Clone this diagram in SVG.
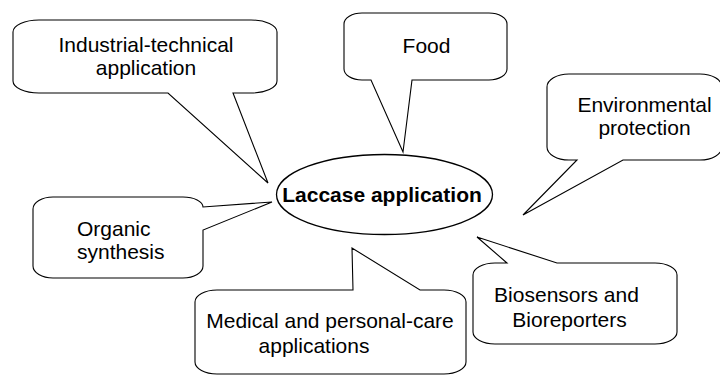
<svg xmlns="http://www.w3.org/2000/svg" width="720" height="375" viewBox="0 0 720 375">
<style>
.c{fill:#fff;stroke:#000;stroke-width:1.1;stroke-linejoin:miter}
.t{font-family:"Liberation Sans",Arial,sans-serif;font-size:21px;fill:#000}
.m{text-anchor:middle}
.b{font-weight:bold}
</style>
<rect width="720" height="375" fill="#fff"/>
<g id="connectors"></g>
<g id="industrial">
<path class="c" d="M39 20 H251 A26 12 0 0 1 277 32 V81 A26 12 0 0 1 251 93 H233 L268 183 L168 93 H39 A26 12 0 0 1 13 81 V32 A26 12 0 0 1 39 20 Z"/>
<text class="t m" x="146" y="52">Industrial-technical</text>
<text class="t m" x="146" y="75">application</text>
</g>
<g id="food">
<path class="c" d="M362 13 H489 A18 11 0 0 1 507 24 V69 A18 11 0 0 1 489 80 H412 L403 152 L371 80 H362 A18 11 0 0 1 344 69 V24 A18 11 0 0 1 362 13 Z"/>
<text class="t m" x="426.5" y="53">Food</text>
</g>
<g id="environmental">
<path class="c" d="M569 74 H700 A22 13 0 0 1 722 87 V147 A22 13 0 0 1 700 160 H623 L523 215 L577 160 H569 A22 13 0 0 1 547 147 V87 A22 13 0 0 1 569 74 Z"/>
<text class="t m" x="644.5" y="112">Environmental</text>
<text class="t m" x="644.5" y="135">protection</text>
</g>
<g id="organic">
<path class="c" d="M53 197 H183 A20 10 0 0 1 203 207 L272 202 L203 230 V266 A20 12 0 0 1 183 278 H53 A20 12 0 0 1 33 266 V209 A20 12 0 0 1 53 197 Z"/>
<text class="t" x="77" y="236">Organic</text>
<text class="t" x="77" y="259">synthesis</text>
</g>
<g id="medical">
<path class="c" d="M217 290 H353 L352 248 L420 290 H444 A22 12 0 0 1 466 302 V362 A22 12 0 0 1 444 374 H217 A22 12 0 0 1 195 362 V302 A22 12 0 0 1 217 290 Z"/>
<text class="t m" x="330" y="328">Medical and personal-care</text>
<text class="t m" x="314" y="353">applications</text>
</g>
<g id="biosensors">
<path class="c" d="M495 263 H507 L477 237 L557 263 H655 A22 12 0 0 1 677 275 V332 A22 12 0 0 1 655 344 H495 A22 12 0 0 1 473 332 V275 A22 12 0 0 1 495 263 Z"/>
<text class="t m" x="566.5" y="302">Biosensors and</text>
<text class="t m" x="569.5" y="327">Bioreporters</text>
</g>
<g id="laccase">
<ellipse cx="384.5" cy="194.5" rx="108" ry="40" fill="#fff" stroke="#000" stroke-width="1.3"/>
<text class="t m b" x="382" y="202">Laccase application</text>
</g>
</svg>
